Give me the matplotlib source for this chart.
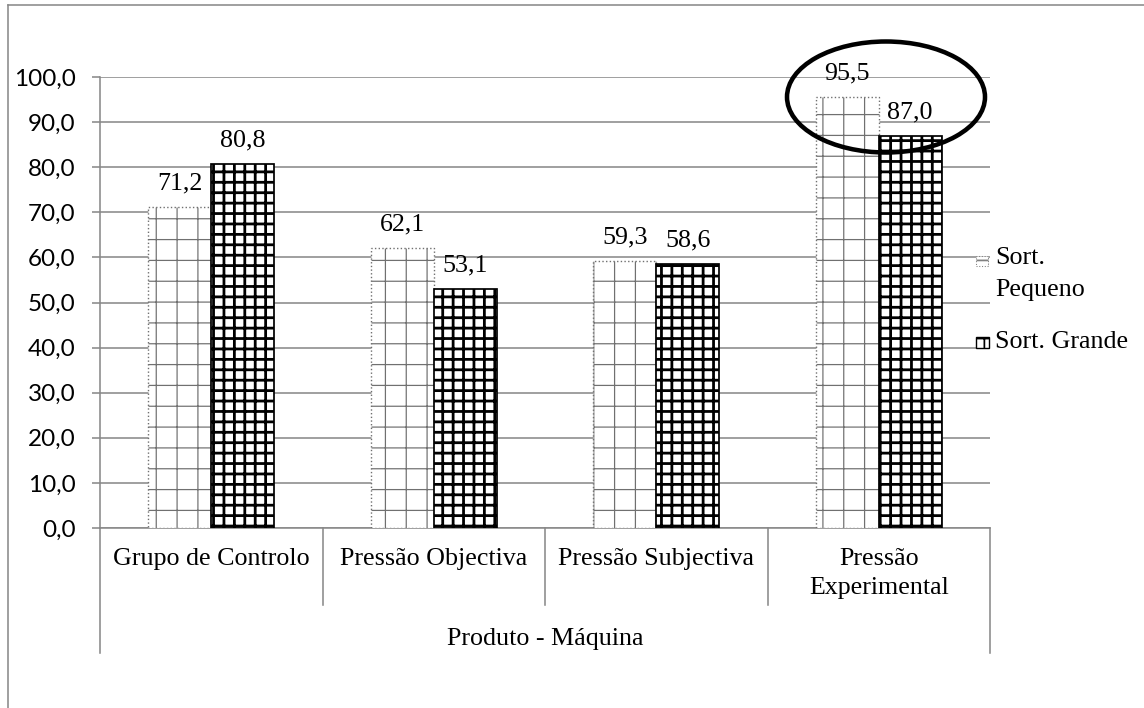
import matplotlib
matplotlib.use("Agg")
import matplotlib.pyplot as plt
import numpy as np
from matplotlib.patches import Ellipse, Rectangle
from matplotlib.lines import Line2D
import matplotlib.transforms as mtransforms

categories = ["Grupo de Controlo", "Pressão Objectiva", "Pressão Subjectiva", "Pressão\nExperimental"]
group_label = "Produto - Máquina"
series_names = ["Sort.\nPequeno", "Sort. Grande"]
pequeno = [71.2, 62.1, 59.3, 95.5]
grande = [80.8, 53.1, 58.6, 87.0]
yticks = [0, 10, 20, 30, 40, 50, 60, 70, 80, 90, 100]

DPI = 125
W, H = 1144, 708
fig = plt.figure(figsize=(W / DPI, H / DPI), dpi=DPI)
SERIF = "Liberation Serif"
SANS = "Lato"
FS = 15
FS_TICK = 14
GRID = "#888888"

def fx(px):
    return px / W

def fy(py):
    return 1 - py / H

ax = fig.add_axes([fx(100), fy(528), fx(990) - fx(100), fy(77) - fy(528)])
x = np.arange(len(categories))
bw = 0.283

def set_hlw(bars, lw):
    for b in bars:
        if hasattr(b, "set_hatch_linewidth"):
            b.set_hatch_linewidth(lw)

with plt.rc_context({"hatch.linewidth": 0.7}):
    b1 = ax.bar(x - bw / 2, pequeno, bw, facecolor="white", edgecolor="#707070",
                hatch="+", linewidth=0.8, linestyle=":", zorder=3)
set_hlw(b1, 0.7)
with plt.rc_context({"hatch.linewidth": 1.6}):
    b2 = ax.bar(x + bw / 2, grande, bw, facecolor="white", edgecolor="black",
                hatch="++", linewidth=1.0, zorder=3)
set_hlw(b2, 1.6)

for bars, vals in ((b1, pequeno), (b2, grande)):
    for b, v in zip(bars, vals):
        ax.annotate(f"{v:.1f}".replace(".", ","),
                    (b.get_x() + b.get_width() / 2, v),
                    xytext=(0, 10), textcoords="offset points",
                    ha="center", va="baseline", fontsize=FS, family=SERIF, zorder=5)

ax.set_xlim(-0.5, len(categories) - 0.5)
ax.set_ylim(0, 100)
ax.set_yticks(yticks)
ax.set_yticklabels([f"{v:.1f}".replace(".", ",") for v in yticks], family=SANS, fontsize=FS_TICK)
ax.tick_params(axis="y", length=4.6, width=0.9, color=GRID, pad=9.5)
ax.set_xticks([])
ax.yaxis.grid(True, color=GRID, linewidth=0.9, zorder=0)
ax.set_axisbelow(True)
for s in ("top", "right"):
    ax.spines[s].set_visible(False)
for s in ("left", "bottom"):
    ax.spines[s].set_color(GRID)
    ax.spines[s].set_linewidth(0.9)

# category separators below axis
trans = mtransforms.blended_transform_factory(ax.transData, ax.transAxes)
inner_bottom = -(605 - 528) / (528 - 77)
outer_bottom = -(653 - 528) / (528 - 77)
for i in range(1, len(categories)):
    ax.add_line(Line2D([i - 0.5, i - 0.5], [0, inner_bottom], transform=trans,
                       color=GRID, lw=0.9, clip_on=False))
for xe in (-0.5, len(categories) - 0.5):
    ax.add_line(Line2D([xe, xe], [0, outer_bottom], transform=trans,
                       color=GRID, lw=0.9, clip_on=False))

for i, c in enumerate(categories):
    ax.text(i, -(548 - 528) / (528 - 77), c, transform=trans, ha="center", va="top",
            fontsize=FS, family=SERIF, linespacing=1.4)
ax.text(0.5, -(639 - 528) / (528 - 77), group_label, transform=ax.transAxes,
        ha="center", va="center", fontsize=FS, family=SERIF)

# outer chart frame
fig.add_artist(Line2D([fx(8), 1.0], [fy(5), fy(5)], transform=fig.transFigure, color=GRID, lw=0.9))
fig.add_artist(Line2D([fx(8), fx(8)], [fy(5), 0.0], transform=fig.transFigure, color=GRID, lw=0.9))

# legend (manual)
leg1 = Rectangle((fx(976), fy(266)), fx(12), fy(256) - fy(266), transform=fig.transFigure,
                 facecolor="white", edgecolor="#808080", hatch="+", lw=0.6, linestyle=":")
leg2 = Rectangle((fx(976), fy(348)), fx(13), fy(337) - fy(348), transform=fig.transFigure,
                 facecolor="white", edgecolor="black", hatch="++", lw=0.8)
fig.add_artist(leg1)
fig.add_artist(leg2)
fig.text(fx(995), fy(258), series_names[0].split("\n")[0], ha="left", va="center", fontsize=FS, family=SERIF)
fig.text(fx(995), fy(290), series_names[0].split("\n")[1], ha="left", va="center", fontsize=FS, family=SERIF)
fig.text(fx(995), fy(342), series_names[1], ha="left", va="center", fontsize=FS, family=SERIF)

# highlight ellipse
fig.add_artist(Ellipse((fx(886), fy(97)), fx(198), fy(42) - fy(153), transform=fig.transFigure,
                       fill=False, edgecolor="black", lw=2.6, zorder=10))

fig.savefig("out.png", dpi=DPI)
